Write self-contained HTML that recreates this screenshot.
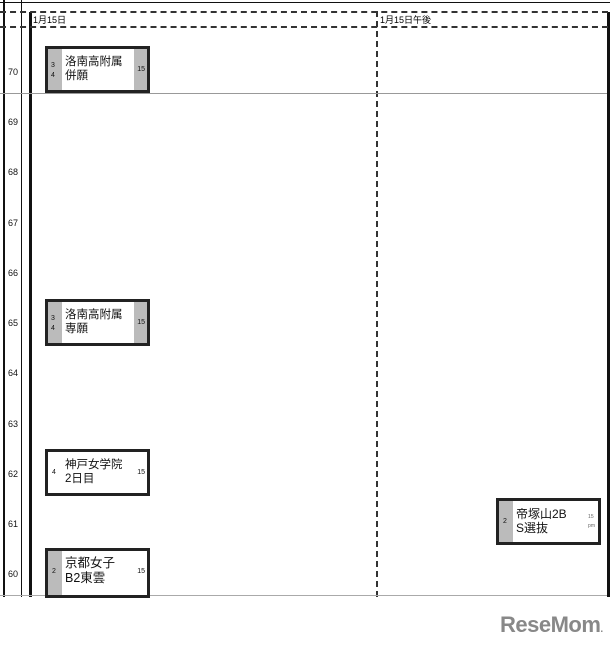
<!DOCTYPE html>
<html><head><meta charset="utf-8"><style>
body{margin:0;width:610px;height:650px;background:#fff;position:relative;overflow:hidden;font-family:"Liberation Sans","Noto Sans CJK JP",sans-serif}
div{position:absolute;box-sizing:border-box}
.v{background:#111}
.dh{height:0;border-top:2px dashed #333}
.lbl{font-size:9px;left:8px;width:14px;color:#111}
.box{border:3px solid #222;background:#fff;width:105px;height:47px}
.gl{left:0;top:0;bottom:0;width:14px;background:#bbb}
.gr{right:0;top:0;bottom:0;width:13px;background:#bbb}
.n{font-size:7px;color:#111}
.t{left:17px;top:6px;font-size:11.5px;line-height:14px;color:#111;white-space:nowrap}
</style></head><body>
<div class="v" style="left:0;top:2px;width:610px;height:1px"></div>
<div class="v" style="left:3px;top:0;width:2px;height:597px"></div>
<div class="v" style="left:21px;top:0;width:1px;height:597px"></div>
<div class="v" style="left:29px;top:12px;width:3px;height:585px"></div>
<div class="v" style="left:607px;top:12px;width:3px;height:585px"></div>
<div class="dh" style="left:0;top:11px;width:608px"></div>
<div class="dh" style="left:0;top:26px;width:608px"></div>
<div style="left:376px;top:11px;height:586px;width:0;border-left:2px dashed #333"></div>
<div style="left:0;top:93px;width:607px;height:1px;background:#999"></div>
<div style="left:0;top:595px;width:607px;height:1px;background:#aaa"></div>
<div style="left:33px;top:13px;font-size:9px">1月15日</div>
<div style="left:380px;top:13px;font-size:9px">1月15日午後</div>

<div class="lbl" style="top:67px">70</div>
<div class="lbl" style="top:117px">69</div>
<div class="lbl" style="top:167px">68</div>
<div class="lbl" style="top:218px">67</div>
<div class="lbl" style="top:268px">66</div>
<div class="lbl" style="top:318px">65</div>
<div class="lbl" style="top:368px">64</div>
<div class="lbl" style="top:419px">63</div>
<div class="lbl" style="top:469px">62</div>
<div class="lbl" style="top:519px">61</div>
<div class="lbl" style="top:569px">60</div>

<div class="box" style="left:45px;top:46px"><div class="gl"></div><div class="gr"></div>
<div class="n" style="left:3px;top:12px;line-height:10px">3<br>4</div><div class="n" style="right:2px;top:17px">15</div>
<div class="t">洛南高附属<br>併願</div></div>

<div class="box" style="left:45px;top:299px"><div class="gl"></div><div class="gr"></div>
<div class="n" style="left:3px;top:12px;line-height:10px">3<br>4</div><div class="n" style="right:2px;top:17px">15</div>
<div class="t">洛南高附属<br>専願</div></div>

<div class="box" style="left:45px;top:449px">
<div class="n" style="left:4px;top:17px">4</div><div class="n" style="right:2px;top:17px">15</div>
<div class="t">神戸女学院<br>2日目</div></div>

<div class="box" style="left:45px;top:548px;height:50px"><div class="gl"></div>
<div class="n" style="left:4px;top:17px">2</div><div class="n" style="right:2px;top:17px">15</div>
<div class="t" style="font-size:12.5px;top:5px;line-height:15px">京都女子<br>B2東雲</div></div>

<div class="box" style="left:496px;top:498px"><div class="gl"></div>
<div class="n" style="left:4px;top:17px">2</div><div class="n" style="right:3px;top:12px;font-size:5px;line-height:9px;color:#666">15<br>pm</div>
<div class="t" style="font-size:12px;top:6px">帝塚山2B<br>S選抜</div></div>

<div style="left:500px;top:612px;font-size:22px;font-weight:bold;color:#888;letter-spacing:-0.5px">ReseMom<span style="font-size:10px">.</span></div>
</body></html>
